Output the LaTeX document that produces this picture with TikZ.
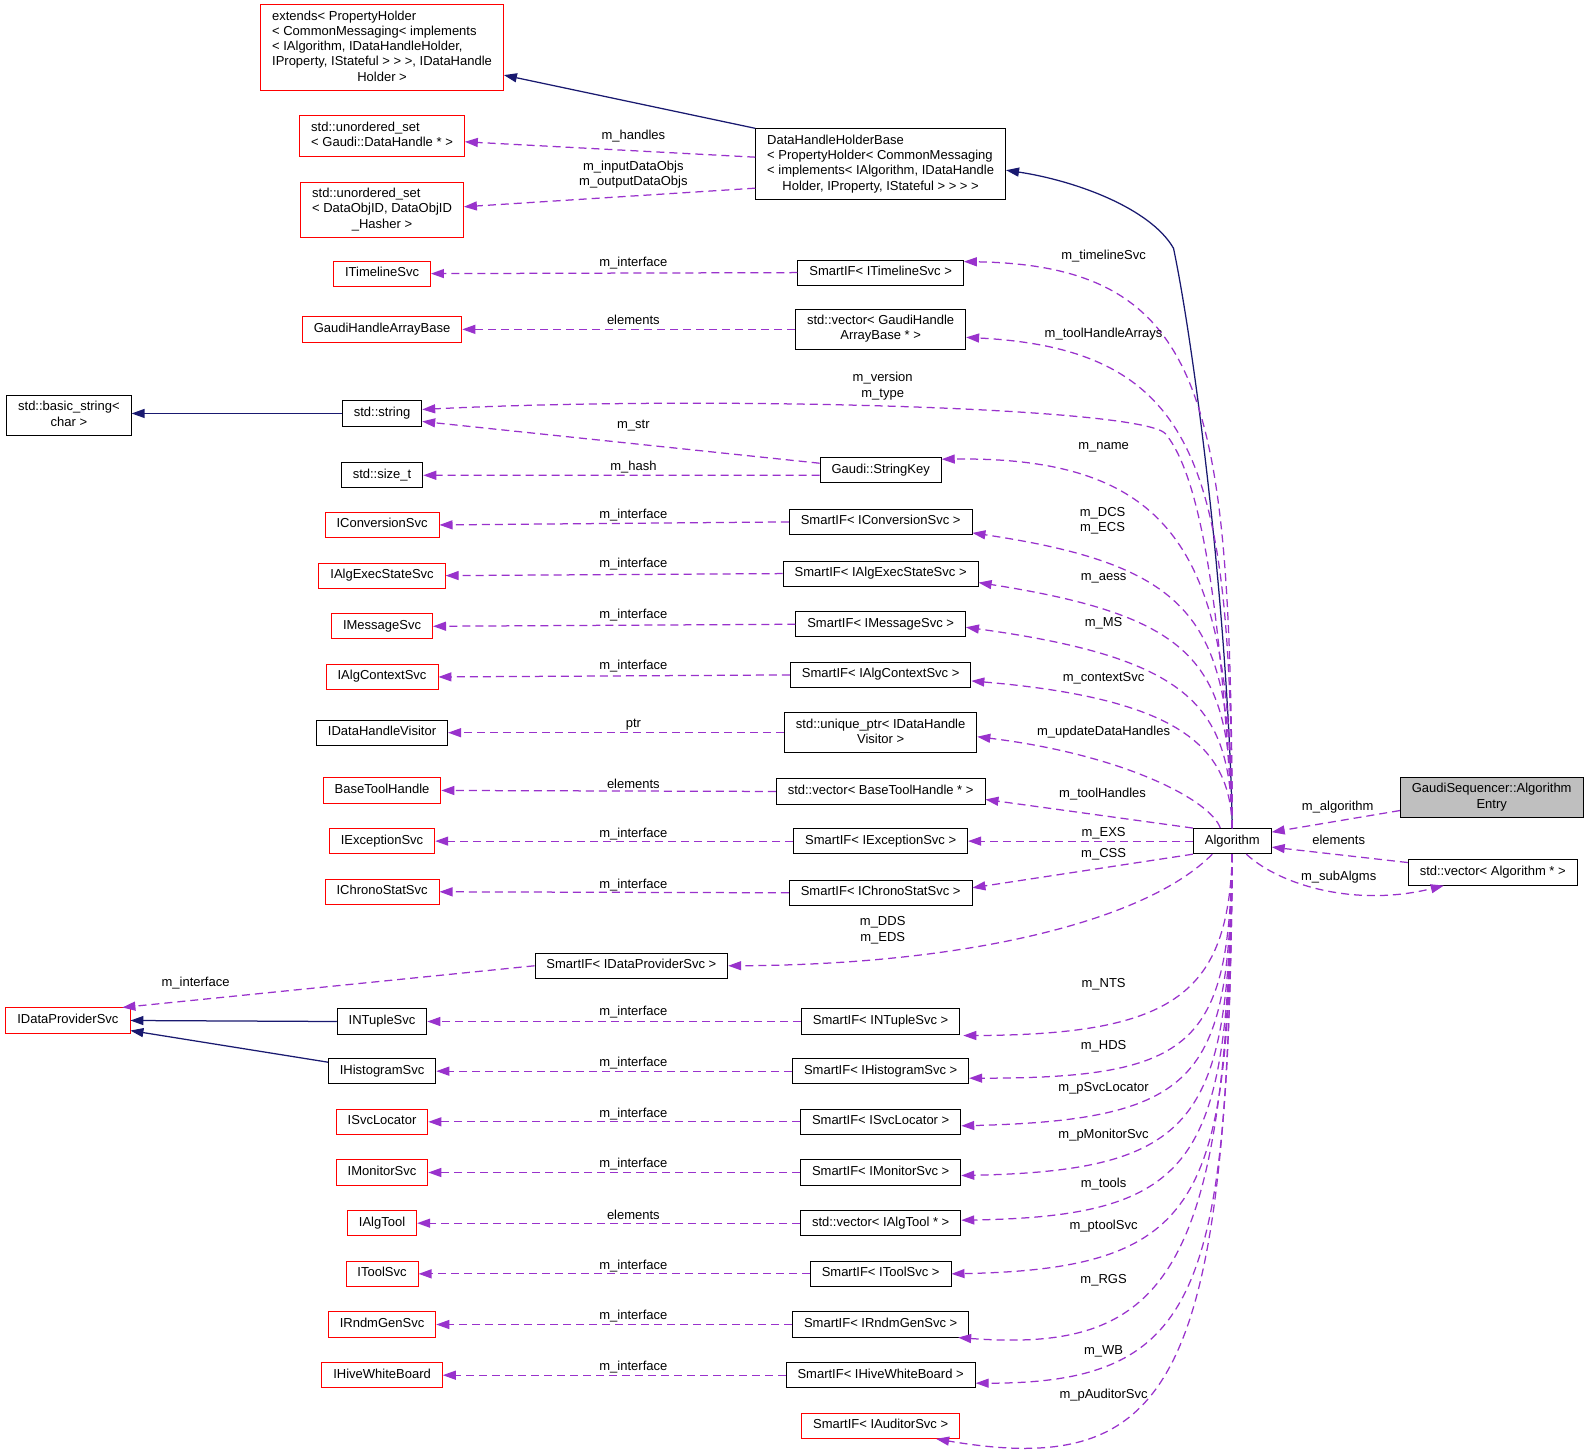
\documentclass[tikz,border=0pt]{standalone}
\usepackage{fontspec}
\setmainfont{Liberation Sans}
\usetikzlibrary{arrows.meta}
\definecolor{purpleedge}{RGB}{153,50,204}
\definecolor{navyedge}{RGB}{25,25,112}
\definecolor{redframe}{RGB}{255,0,0}
\definecolor{grayfill}{RGB}{191,191,191}
\newcommand{\wrapped}[2]{\begin{tabular}{@{}l@{}}#1\\\multicolumn{1}{@{}c@{}}{#2}\end{tabular}}
\newcommand{\classbox}[4][]{\node[cls,#1] (#2) at (#3) {#4};}
\newcommand{\drawuse}{\draw[usage]}
\newcommand{\drawinherit}{\draw[inherit]}
\tikzset{
  cls/.style={draw=black, line width=0.9pt, inner xsep=11.5pt, inner ysep=5pt,
    text height=10.64pt, text depth=4.56pt, font=\fontsize{13}{15.2}\selectfont},
  multi/.style={text height=, text depth=},
  missing/.style={draw=redframe},
  current/.style={fill=grayfill},
  lbl/.style={inner sep=0pt, align=center, text=black, font=\fontsize{13}{15.2}\selectfont},
  usage/.style={purpleedge, line width=1.25pt, dash pattern=on 8pt off 5pt,
    -{Triangle[length=13pt,width=9pt]}},
  inherit/.style={navyedge, line width=1.25pt, -{Triangle[length=13pt,width=9pt]}}
}
\begin{document}
\begin{tikzpicture}[x=1.0134pt,y=-1.0134pt]
\useasboundingbox[fill=white] (0,0) rectangle (1568,1436.7);
% left column
\classbox[missing,multi]{ext}{377,47}{\wrapped{extends< PropertyHolder\\< CommonMessaging< implements\\< IAlgorithm, IDataHandleHolder,\\IProperty, IStateful > > >, IDataHandle}{Holder >}}
\classbox[missing,multi]{hset}{377,134}{\wrapped{std::unordered\_set}{< Gaudi::DataHandle * >}}
\classbox[missing,multi]{oset}{377,207}{\wrapped{std::unordered\_set\\< DataObjID, DataObjID}{\_Hasher >}}
\classbox[multi]{bstr}{68,410}{\wrapped{std::basic\_string<}{char >}}
\foreach \n/\y/\txt in {tlsvc/270/ITimelineSvc, gharr/325/GaudiHandleArrayBase,
  convsvc/518/IConversionSvc, aesvc/568/IAlgExecStateSvc, msgsvc/618/IMessageSvc,
  ctxsvc/668/IAlgContextSvc, bthandle/780/BaseToolHandle, excsvc/830/IExceptionSvc,
  chrsvc/880/IChronoStatSvc, svcloc/1107/ISvcLocator, monsvc/1157/IMonitorSvc,
  algtool/1207/IAlgTool, toolsvc/1257/IToolSvc, rndmsvc/1307/IRndmGenSvc,
  hwb/1357/IHiveWhiteBoard}
  {\classbox[missing]{\n}{377,\y}{\txt}}
\foreach \n/\y/\txt in {str/408/std::string, sizet/469/std::size\_t,
  dhvis/723/IDataHandleVisitor, ntsvc/1008/INTupleSvc, histsvc/1057/IHistogramSvc}
  {\classbox{\n}{377,\y}{\txt}}
\classbox[missing]{dpsvc}{67,1007}{IDataProviderSvc}
% middle column
\classbox[multi]{dhhb}{869,162}{\wrapped{DataHandleHolderBase\\< PropertyHolder< CommonMessaging\\< implements< IAlgorithm, IDataHandle}{Holder, IProperty, IStateful > > > >}}
\classbox[multi]{vgh}{869,325}{\wrapped{std::vector< GaudiHandle}{ArrayBase * >}}
\classbox[multi]{updh}{869,723}{\wrapped{std::unique\_ptr< IDataHandle}{Visitor >}}
\foreach \n/\y/\txt in {sitl/269/{SmartIF< ITimelineSvc >}, skey/464/Gaudi::StringKey,
  siconv/515/{SmartIF< IConversionSvc >}, siaes/566/{SmartIF< IAlgExecStateSvc >},
  simsg/616/{SmartIF< IMessageSvc >}, sictx/666/{SmartIF< IAlgContextSvc >},
  vbth/781/{std::vector< BaseToolHandle * >}, siexc/830/{SmartIF< IExceptionSvc >},
  sichr/881/{SmartIF< IChronoStatSvc >}, sint/1008/{SmartIF< INTupleSvc >},
  sihist/1057/{SmartIF< IHistogramSvc >}, sisl/1107/{SmartIF< ISvcLocator >},
  simon/1157/{SmartIF< IMonitorSvc >}, vtool/1207/{std::vector< IAlgTool * >},
  sitool/1257/{SmartIF< IToolSvc >}, sirndm/1307/{SmartIF< IRndmGenSvc >},
  sihwb/1357/{SmartIF< IHiveWhiteBoard >}}
  {\classbox{\n}{869,\y}{\txt}}
\classbox[missing]{siaud}{869,1407}{SmartIF< IAuditorSvc >}
\classbox{sidp}{623,953}{SmartIF< IDataProviderSvc >}
% right
\classbox{alg}{1216,830}{Algorithm}
\classbox[multi,current]{gsae}{1472,787}{\wrapped{GaudiSequencer::Algorithm}{Entry}}
\classbox{valg}{1473,861}{std::vector< Algorithm * >}
% middle to left
\foreach \a/\b/\lab/\ly in {sitl/tlsvc/m\_interface/260, vgh/gharr/elements/316,
  siconv/convsvc/m\_interface/508, siaes/aesvc/m\_interface/557,
  simsg/msgsvc/m\_interface/607, sictx/ctxsvc/m\_interface/657, updh/dhvis/ptr/715,
  vbth/bthandle/elements/773, siexc/excsvc/m\_interface/823,
  sichr/chrsvc/m\_interface/873, sint/ntsvc/m\_interface/999,
  sihist/histsvc/m\_interface/1049, sisl/svcloc/m\_interface/1099,
  simon/monsvc/m\_interface/1149, vtool/algtool/elements/1199,
  sitool/toolsvc/m\_interface/1249, sirndm/rndmsvc/m\_interface/1299,
  sihwb/hwb/m\_interface/1349}
  {\drawuse (\a.west) -- (\b.east) node[lbl] (i\a) at (625,\ly) {\lab};}
\drawinherit (dhhb.north west) -- ([yshift=16pt]ext.south east);
\drawuse ([yshift=7pt]dhhb.west) -- ([yshift=-6pt]hset.east) node[lbl] (mhset) at (625,134) {m\_handles};
\drawuse ([yshift=-24pt]dhhb.west) -- ([yshift=3pt]oset.east) node[lbl] (moset) at (625,172) {m\_inputDataObjs\\m\_outputDataObjs};
\drawinherit (str.west) -- (str.west -| bstr.east);
\drawuse ([yshift=7pt]skey.west) -- ([yshift=-8pt]str.east) node[lbl] (mskey) at (625,420) {m\_str};
\drawuse ([yshift=-5pt]skey.west) -- (sizet.east) node[lbl] (msizet) at (625,461) {m\_hash};
\drawuse (sidp.west) -- ([xshift=-8pt]dpsvc.north east) node[lbl] (idp) at (193,970) {m\_interface};
\drawinherit (ntsvc.west) -- (dpsvc.east);
\drawinherit ([yshift=9pt]histsvc.west) -- ([yshift=3pt]dpsvc.south east);
% Algorithm upwards
\drawinherit (alg.north) .. controls (1212,600) and (1178,340) .. (1158,245) .. controls (1135,205) and (1060,178) .. ([yshift=-6pt]dhhb.east);
\drawuse (alg.north) .. controls (1205,600) and (1185,470) .. (1150,428) .. controls (1128,402) and (700,390) .. ([yshift=4pt]str.east) node[lbl] (mstr) at (871,381) {m\_version\\m\_type};
\foreach \trg/\sh/\cy/\cx/\cz/\lab/\lx/\ly in {
  sitl/11pt/400/1195/262/m\_timelineSvc/1089/253,
  vgh/-8pt/470/1190/345/m\_toolHandleArrays/1089/330,
  skey/11pt/560/1170/450/m\_name/1089/441,
  siconv/-11pt/620/1190/560/{m\_DCS\\m\_ECS}/1088/514,
  siaes/-9pt/660/1190/610/m\_aess/1089/571,
  simsg/-3pt/700/1180/650/m\_MS/1089/615,
  sictx/-6pt/740/1170/690/m\_contextSvc/1089/669}
  {\drawuse (alg.north) .. controls (1214,\cy) and (\cx,\cz) .. ([yshift=\sh]\trg.east)
    node[lbl] (m\trg) at (\lx,\ly) {\lab};}
\drawuse ([xshift=-12pt]alg.north) .. controls (1195,790) and (1110,745) .. ([yshift=-4pt]updh.east) node[lbl] (mupdh) at (1089,722) {m\_updateDataHandles};
\drawuse (alg.north west) -- ([yshift=-8pt]vbth.east) node[lbl] (mvbth) at (1088,784) {m\_toolHandles};
\drawuse (alg.west) -- (siexc.east) node[lbl] (msiexc) at (1089,822) {m\_EXS};
\drawuse (alg.south west) -- ([yshift=5pt]sichr.east) node[lbl] (msichr) at (1089,843) {m\_CSS};
% Algorithm downwards
\drawuse ([xshift=-20pt]alg.south) .. controls (1130,910) and (950,952) .. (sidp.east) node[lbl] (msidp) at (871,918) {m\_DDS\\m\_EDS};
\foreach \trg/\an/\sx/\sh/\cy/\cx/\cz/\lab/\lx/\ly in {
  sint/south east/3pt/-1pt/980/1160/1021/m\_NTS/1089/971,
  sihist/east/0pt/-7pt/1030/1180/1064/m\_HDS/1089/1032,
  sisl/east/0pt/-4pt/1060/1190/1105/m\_pSvcLocator/1089/1074,
  simon/east/0pt/-3pt/1100/1190/1155/m\_pMonitorSvc/1089/1120,
  vtool/east/0pt/3pt/1140/1190/1200/m\_tools/1089/1168,
  sitool/east/0pt/0pt/1180/1195/1252/m\_ptoolSvc/1089/1210,
  sirndm/south east/-11pt/0pt/1260/1150/1335/m\_RGS/1089/1263,
  sihwb/east/0pt/-8pt/1270/1190/1365/m\_WB/1089/1333,
  siaud/south east/-24pt/0pt/1360/1160/1460/m\_pAuditorSvc/1089/1377}
  {\drawuse (alg.south) .. controls (1212,\cy) and (\cx,\cz) .. ([xshift=\sx,yshift=\sh]\trg.\an)
    node[lbl] (m\trg) at (\lx,\ly) {\lab};}
% sequencer side
\drawuse ([yshift=-13pt]gsae.west) -- ([yshift=9pt]alg.east) node[lbl] (mgsae) at (1320,796) {m\_algorithm};
\drawuse ([yshift=10pt]valg.west) -- ([yshift=-6pt]alg.east) node[lbl] (mvalg) at (1321,829) {elements};
\drawuse ([xshift=14pt]alg.south) .. controls (1265,875) and (1340,895) .. ([xshift=36pt]valg.south west) node[lbl] (msub) at (1321,866) {m\_subAlgms};
\end{tikzpicture}
\end{document}
